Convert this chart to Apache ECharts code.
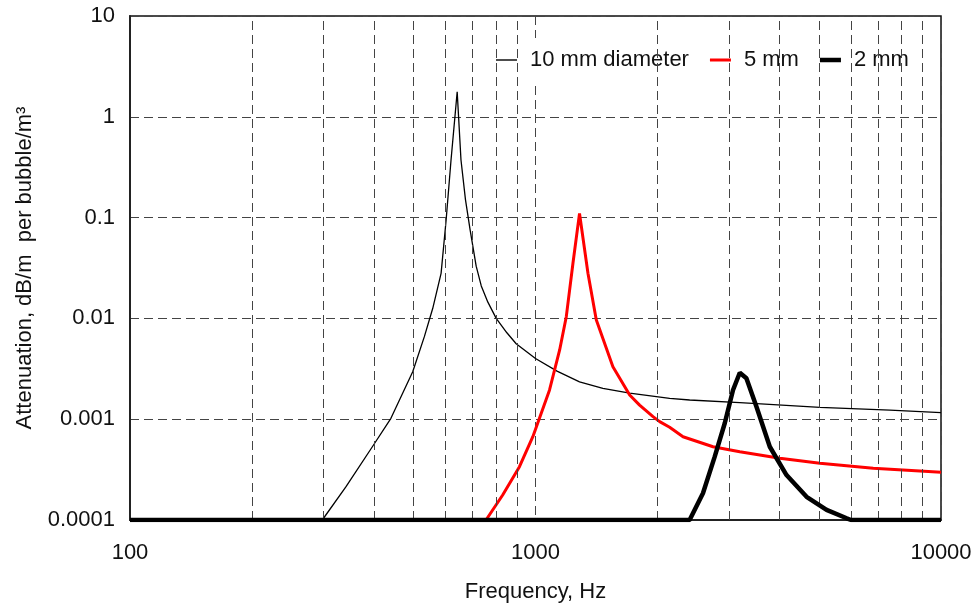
<!DOCTYPE html>
<html>
<head>
<meta charset="utf-8">
<script src="https://cdn.jsdelivr.net/npm/echarts@6/dist/echarts.min.js"></script>
<style>
html,body{margin:0;padding:0;background:#fff;}
#chart{width:976px;height:604px;}
</style>
</head>
<body>
<div id="chart"></div>
<script>
// ---- data ----
var seriesNames = ['10 mm diameter', '5 mm', '2 mm'];

var freq10 = [100, 298, 341, 396, 440, 498, 532, 558, 585, 602, 619, 641, 655, 672, 690, 714, 735, 763, 800, 850, 896, 1000, 1130, 1284, 1466, 1707, 2142, 2400, 3190, 5030, 7480, 10000];
var att10  = [0.0001, 0.0001, 0.000214, 0.000533, 0.00102, 0.00296, 0.00659, 0.0126, 0.028, 0.0946, 0.373, 1.77, 0.373, 0.15, 0.075, 0.033, 0.021, 0.0145, 0.0100, 0.0072, 0.0056, 0.0040, 0.0030, 0.00235, 0.00202, 0.00181, 0.00161, 0.00155, 0.00146, 0.00131, 0.00123, 0.00116];

var freq5 = [100, 755, 830, 913, 985, 1083, 1147, 1191, 1237, 1284, 1347, 1412, 1552, 1707, 1806, 1949, 2024, 2142, 2311, 2740, 3190, 4004, 5027, 6806, 10000];
var att5  = [0.0001, 0.0001, 0.000177, 0.000338, 0.00067, 0.00195, 0.00486, 0.0104, 0.0352, 0.11, 0.028, 0.0097, 0.00332, 0.00174, 0.00138, 0.00106, 0.000945, 0.000832, 0.00067, 0.000533, 0.000476, 0.000409, 0.000365, 0.000326, 0.000297];

var freq2 = [100, 2399, 2588, 2767, 2929, 3070, 3190, 3312, 3507, 3783, 4159, 4661, 5222, 5853, 6000, 10000];
var att2  = [0.0001, 0.0001, 0.000184, 0.000425, 0.000912, 0.00195, 0.00289, 0.00255, 0.00133, 0.000533, 0.000279, 0.00017, 0.000126, 0.000104, 0.0001, 0.0001];

var minorGridX = [200, 300, 400, 500, 600, 700, 800, 900, 2000, 3000, 4000, 5000, 6000, 7000, 8000, 9000];

function pairs(xs, ys) { return xs.map(function (x, i) { return [x, ys[i]]; }); }

var FONT = '"Liberation Sans", Arial, sans-serif';
var gridDash = { color: '#444', width: 1, type: [9, 5] };

var chart = echarts.init(document.getElementById('chart'), null, { renderer: 'canvas' });
chart.setOption({
  animation: false,
  backgroundColor: '#ffffff',
  textStyle: { fontFamily: FONT },
  grid: { left: 130, right: 35, top: 16, bottom: 84, show: true, borderColor: '#111', borderWidth: 1.5,
          backgroundColor: 'transparent', containLabel: false, outerBoundsMode: 'none' },
  legend: {
    left: 488, top: 38,
    padding: [10, 22, 10, 8],
    backgroundColor: '#ffffff',
    itemWidth: 21, itemHeight: 14, itemGap: 21,
    symbolKeepAspect: true,
    itemStyle: { borderWidth: 0 },
    textStyle: { fontFamily: FONT, fontSize: 22, color: '#111', padding: [0, 0, 0, 8], lineHeight: 24 },
    data: [
      { name: seriesNames[0], icon: 'path://M0,0H21V1.4H0Z', itemStyle: { borderWidth: 0, color: '#000' } },
      { name: seriesNames[1], icon: 'path://M0,0H21V3H0Z', itemStyle: { borderWidth: 0, color: '#ff0000' } },
      { name: seriesNames[2], icon: 'path://M0,0H21V4.5H0Z', itemStyle: { borderWidth: 0, color: '#000' } }
    ]
  },
  xAxis: {
    type: 'log', logBase: 10, min: 100, max: 10000,
    name: 'Frequency, Hz', nameLocation: 'middle', nameGap: 61,
    nameTextStyle: { fontFamily: FONT, fontSize: 22, color: '#111' },
    axisLine: { show: true, onZero: false, lineStyle: { color: '#222', width: 2 } },
    axisTick: { show: false },
    axisLabel: { fontFamily: FONT, fontSize: 22, color: '#111', margin: 22,
      formatter: function (v) { return String(Math.round(v)); } },
    splitLine: { show: true, lineStyle: gridDash }
  },
  yAxis: {
    type: 'log', logBase: 10, min: 0.0001, max: 10,
    name: 'Attenuation, dB/m  per bubble/m³', nameLocation: 'middle', nameGap: 94,
    nameTextStyle: { fontFamily: FONT, fontSize: 22, color: '#111' },
    axisLine: { show: true, onZero: false, lineStyle: { color: '#222', width: 2 } },
    axisTick: { show: false },
    axisLabel: { fontFamily: FONT, fontSize: 22, color: '#111', margin: 15,
      formatter: function (v) { return String(Number(v.toPrecision(1))); } },
    splitLine: { show: true, lineStyle: gridDash }
  },
  series: [
    {
      name: 'minor-grid', type: 'line', data: [], silent: true, z: 1,
      markLine: {
        silent: true, symbol: 'none', label: { show: false },
        lineStyle: gridDash,
        data: minorGridX.map(function (x) { return { xAxis: x }; })
      }
    },
    {
      name: seriesNames[0], type: 'line', data: pairs(freq10, att10),
      symbol: 'none', showSymbol: false, z: 3,
      lineStyle: { color: '#000', width: 1.3 }, itemStyle: { color: '#000' }
    },
    {
      name: seriesNames[1], type: 'line', data: pairs(freq5, att5),
      symbol: 'none', showSymbol: false, z: 4,
      lineStyle: { color: '#ff0000', width: 3 }, itemStyle: { color: '#ff0000' }
    },
    {
      name: seriesNames[2], type: 'line', data: pairs(freq2, att2),
      symbol: 'none', showSymbol: false, z: 5,
      lineStyle: { color: '#000', width: 4.5 }, itemStyle: { color: '#000' }
    }
  ]
});
</script>
</body>
</html>
